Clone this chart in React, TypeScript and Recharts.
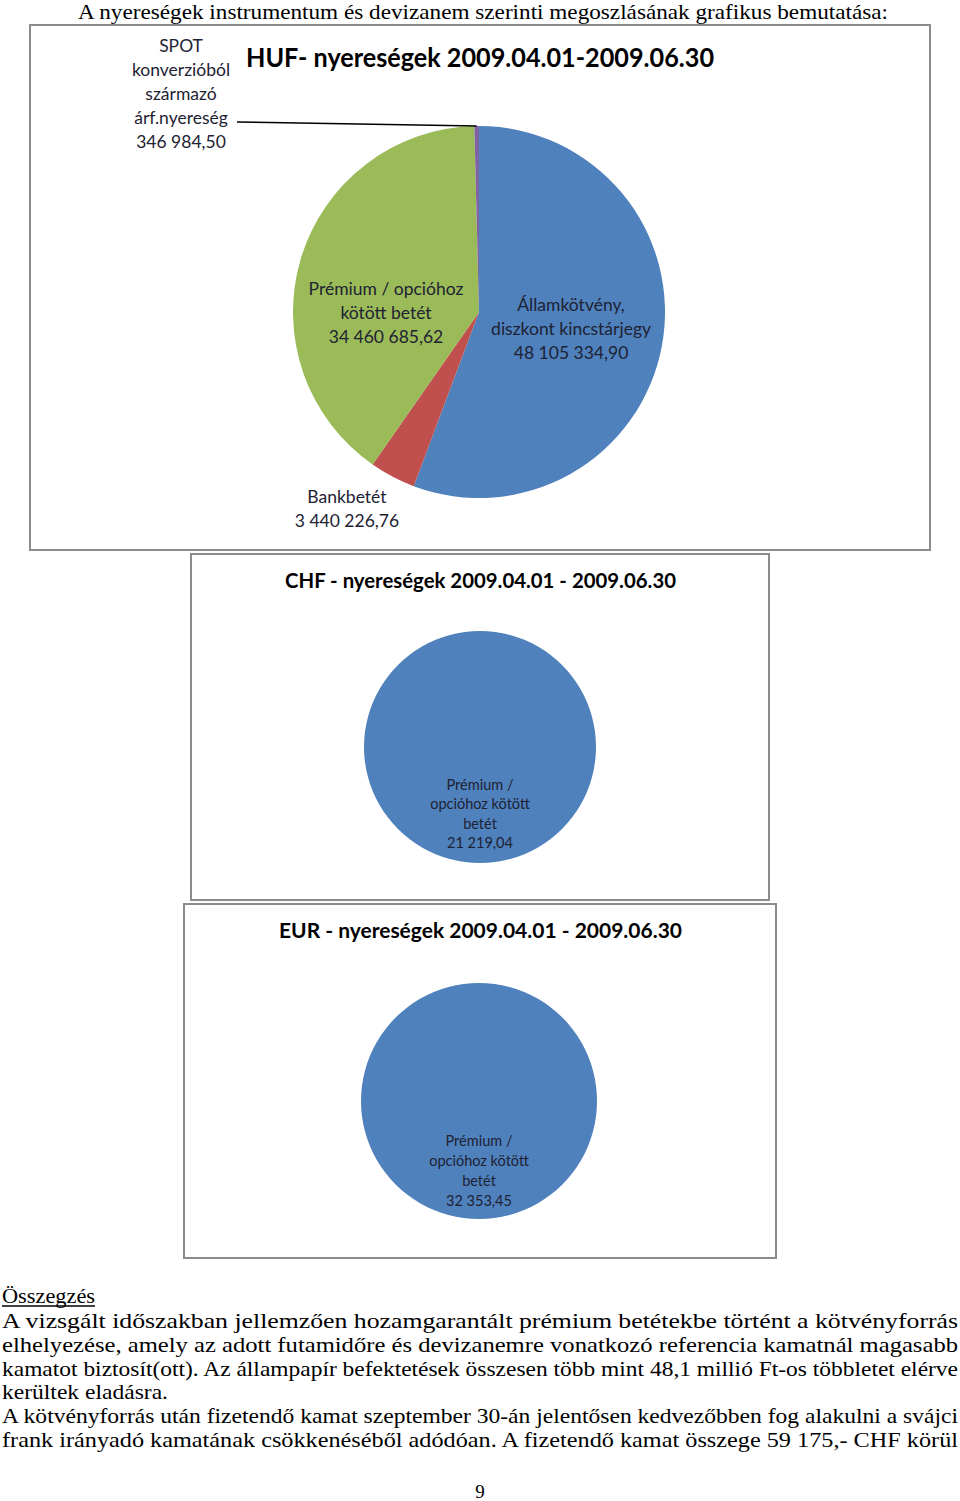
import React from 'react';
import { PieChart, Pie, Cell } from 'recharts';

// ---------- data ----------
const hufCategories = [
  'Államkötvény, diszkont kincstárjegy',
  'Bankbetét',
  'Prémium / opcióhoz kötött betét',
  'SPOT konverzióból származó árf.nyereség',
];
const hufValues = [48105334.9, 3440226.76, 34460685.62, 346984.5];
const hufLabelLines = [
  ['Államkötvény,', 'diszkont kincstárjegy'],
  ['Bankbetét'],
  ['Prémium / opcióhoz', 'kötött betét'],
  ['SPOT', 'konverzióból', 'származó', 'árf.nyereség'],
];

const chfCategories = ['Prémium / opcióhoz kötött betét'];
const chfValues = [21219.04];
const eurCategories = ['Prémium / opcióhoz kötött betét'];
const eurValues = [32353.45];
const singleLabelLines = [['Prémium /', 'opcióhoz kötött', 'betét']];

const titles = {
  header: 'A nyereségek instrumentum és devizanem szerinti megoszlásának grafikus bemutatása:',
  huf: 'HUF- nyereségek 2009.04.01-2009.06.30',
  chf: 'CHF - nyereségek 2009.04.01 - 2009.06.30',
  eur: 'EUR - nyereségek 2009.04.01 - 2009.06.30',
};

const summaryTitle = 'Összegzés';
const summaryLines = [
  'A vizsgált időszakban jellemzően hozamgarantált prémium betétekbe történt a kötvényforrás',
  'elhelyezése, amely az adott futamidőre és devizanemre vonatkozó referencia kamatnál magasabb',
  'kamatot biztosít(ott). Az állampapír befektetések összesen több mint 48,1 millió Ft-os többletet elérve',
  'kerültek eladásra.',
  'A kötvényforrás után fizetendő kamat szeptember 30-án jelentősen kedvezőbben fog alakulni a svájci',
  'frank irányadó kamatának csökkenéséből adódóan. A fizetendő kamat összege 59 175,- CHF körül',
];
const pageNumber = '9';

// ---------- styles ----------
const hufColors = ['#4F81BD', '#C0504D', '#9BBB59', '#8064A2'];
const singleColor = '#4F81BD';
const labelFont = 'Lato, "Open Sans", sans-serif';
const serifFont = '"Liberation Serif", "DejaVu Serif", serif';
const textColor = '#1e2233';
const noMargin = { top: 0, right: 0, bottom: 0, left: 0 };

// label offsets (in units of outer radius, relative to pie centre)
const hufLabelOffsets: [number, number][] = [
  [0.495, 0.091],
  [-0.71, 1.059],
  [-0.5, 0.0],
  [-1.602, -1.177],
];
const hufLeaderFrom: [number, number] = [-1.301, -1.022];
const chfLabelOffsets: [number, number][] = [[0, 0.573]];
const eurLabelOffsets: [number, number][] = [[0, 0.585]];

function fmt(v: number): string {
  const [i, d] = v.toFixed(2).split('.');
  const grouped = i.replace(/\B(?=(\d{3})+(?!\d))/g, ' ');
  return grouped + ',' + d;
}

function makeLabel(
  lines: string[][],
  values: number[],
  offsets: [number, number][],
  fontSize: number,
  lineHeight: number,
  leader?: { index: number; from: [number, number] }
) {
  return (props: any) => {
    const { cx, cy, outerRadius, index, midAngle } = props;
    const r = outerRadius;
    const all = [...lines[index], fmt(values[index])];
    const [ox, oy] = offsets[index];
    const x = cx + ox * r;
    const y = cy + oy * r;
    const n = all.length;
    const RAD = Math.PI / 180;
    return (
      <g key={'lbl' + index}>
        {leader && leader.index === index ? (
          <line
            x1={cx + leader.from[0] * r}
            y1={cy + leader.from[1] * r}
            x2={cx + r * Math.cos(-midAngle * RAD)}
            y2={cy + r * Math.sin(-midAngle * RAD)}
            stroke="#000"
            strokeWidth={1.5}
          />
        ) : null}
        {all.map((t, i) => (
          <text
            key={i}
            x={x}
            y={y + (i - (n - 1) / 2) * lineHeight}
            textAnchor="middle"
            dominantBaseline="central"
            fontFamily={labelFont}
            fontSize={fontSize}
            fill={textColor}
          >
            {t}
          </text>
        ))}
      </g>
    );
  };
}

const hufData = hufCategories.map((name, i) => ({ name, value: hufValues[i] }));
const chfData = chfCategories.map((name, i) => ({ name, value: chfValues[i] }));
const eurData = eurCategories.map((name, i) => ({ name, value: eurValues[i] }));

const holderStyle = (left: number, top: number, width: number, height: number): React.CSSProperties => ({
  position: 'absolute',
  left,
  top,
  width,
  height,
});
const borderStyle = (left: number, top: number, width: number, height: number): React.CSSProperties => ({
  position: 'absolute',
  left,
  top,
  width,
  height,
  boxSizing: 'border-box',
  border: '2px solid #8c8c8c',
  pointerEvents: 'none',
});

function Title({ text, x, y, w, size }: { text: string; x: number; y: number; w: number; size: number }) {
  return (
    <text
      x={x}
      y={y}
      textAnchor="middle"
      dominantBaseline="central"
      fontFamily={labelFont}
      fontWeight={700}
      fontSize={size}
      textLength={w}
      lengthAdjust="spacingAndGlyphs"
      fill="#000"
    >
      {text}
    </text>
  );
}

export default function App() {
  return (
    <div style={{ position: 'absolute', left: 0, top: 0, width: 960, height: 1501, background: '#fff', overflow: 'hidden' }}>
      {/* HUF chart */}
      <div style={holderStyle(29, 24, 902, 527)}>
        <PieChart width={902} height={527} margin={noMargin}>
          <Pie
            data={hufData}
            dataKey="value"
            nameKey="name"
            cx={450}
            cy={288}
            outerRadius={186}
            startAngle={90}
            endAngle={-270}
            stroke="none"
            isAnimationActive={false}
            labelLine={false}
            label={makeLabel(hufLabelLines, hufValues, hufLabelOffsets, 17.5, 24, { index: 3, from: hufLeaderFrom })}
          >
            {hufData.map((d, i) => (
              <Cell key={d.name} fill={hufColors[i]} />
            ))}
          </Pie>
        </PieChart>
      </div>
      <div style={borderStyle(29, 24, 902, 527)} />

      {/* CHF chart */}
      <div style={holderStyle(190, 553, 580, 348)}>
        <PieChart width={580} height={348} margin={noMargin}>
          <Pie
            data={chfData}
            dataKey="value"
            nameKey="name"
            cx={290}
            cy={194}
            outerRadius={116}
            startAngle={90}
            endAngle={-270}
            stroke="none"
            isAnimationActive={false}
            labelLine={false}
            label={makeLabel(singleLabelLines, chfValues, chfLabelOffsets, 14.5, 19.5)}
          >
            {chfData.map((d) => (
              <Cell key={d.name} fill={singleColor} />
            ))}
          </Pie>
        </PieChart>
      </div>
      <div style={borderStyle(190, 553, 580, 348)} />

      {/* EUR chart */}
      <div style={holderStyle(183, 903, 594, 356)}>
        <PieChart width={594} height={356} margin={noMargin}>
          <Pie
            data={eurData}
            dataKey="value"
            nameKey="name"
            cx={296}
            cy={198}
            outerRadius={118}
            startAngle={90}
            endAngle={-270}
            stroke="none"
            isAnimationActive={false}
            labelLine={false}
            label={makeLabel(singleLabelLines, eurValues, eurLabelOffsets, 14.5, 20)}
          >
            {eurData.map((d) => (
              <Cell key={d.name} fill={singleColor} />
            ))}
          </Pie>
        </PieChart>
      </div>
      <div style={borderStyle(183, 903, 594, 356)} />

      {/* text overlay */}
      <svg width={960} height={1501} style={{ position: 'absolute', left: 0, top: 0, pointerEvents: 'none' }}>
        <text
          x={483}
          y={12}
          textAnchor="middle"
          dominantBaseline="central"
          fontFamily={serifFont}
          fontSize={21}
          textLength={810}
          lengthAdjust="spacingAndGlyphs"
          fill="#000"
        >
          {titles.header}
        </text>
        <Title text={titles.huf} x={480} y={56} w={468} size={27} />
        <Title text={titles.chf} x={480.5} y={579} w={391} size={21} />
        <Title text={titles.eur} x={480.5} y={929} w={403} size={21} />

        <text
          x={2}
          y={1296}
          dominantBaseline="central"
          fontFamily={serifFont}
          fontSize={21}
          textLength={93}
          lengthAdjust="spacingAndGlyphs"
          fill="#000"
        >
          {summaryTitle}
        </text>
        <line x1={2} y1={1306} x2={95} y2={1306} stroke="#000" strokeWidth={1.3} />
        {summaryLines.map((t, i) => {
          const ys = [1321, 1345, 1369, 1392, 1416, 1440];
          const widths = [956, 956, 956, 166, 956, 956];
          return (
            <text
              key={i}
              x={2}
              y={ys[i]}
              dominantBaseline="central"
              fontFamily={serifFont}
              fontSize={21}
              textLength={widths[i]}
              lengthAdjust="spacingAndGlyphs"
              fill="#000"
            >
              {t}
            </text>
          );
        })}
        <text x={480} y={1498} textAnchor="middle" fontFamily={serifFont} fontSize={19} fill="#000">
          {pageNumber}
        </text>
      </svg>
    </div>
  );
}
